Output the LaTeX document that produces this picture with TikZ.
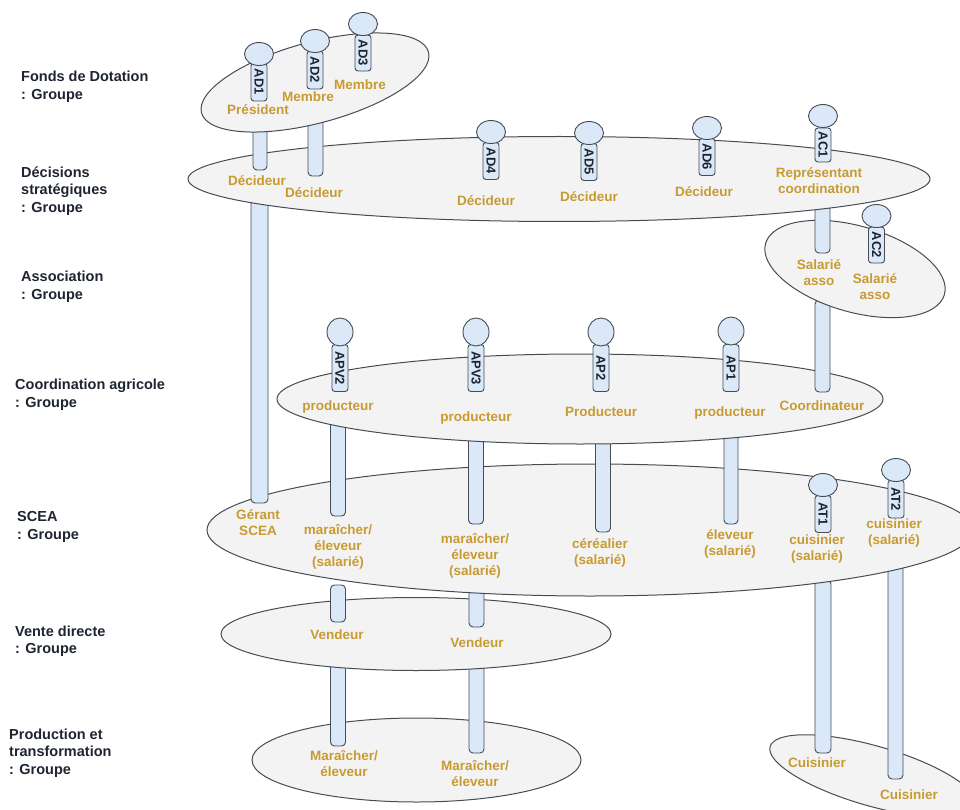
\documentclass[tikz,border=0pt]{standalone}
\usepackage{fontspec}
\setmainfont{Liberation Sans}
\usetikzlibrary{shapes.geometric}
\definecolor{groupfill}{RGB}{243,243,243}
\definecolor{lifefill}{RGB}{218,232,248}
\definecolor{rolegold}{RGB}{200,155,50}
\definecolor{edgegray}{RGB}{70,76,84}
\definecolor{titledark}{RGB}{30,36,48}
\newcommand{\lifebar}[4][7.5]{\draw[lifebar] (#2-#1,#3) rectangle (#2+#1,#4);}
\newcommand{\actor}[6][]{%
\node (tag#2) [tagbox, minimum width=#6pt] at (#3,#5) {#2};
\node (head#2) [headbox,#1] at (#3,#4) {};
}
\begin{document}
\begin{tikzpicture}[x=1pt,y=-1pt,
groupbox/.style={ellipse,draw=edgegray,fill=groupfill,line width=1pt,inner sep=0pt},
headbox/.style={ellipse,draw=edgegray,fill=lifefill,line width=0.9pt,minimum width=29pt,minimum height=23pt,inner sep=0pt},
roundhead/.style={minimum width=26pt,minimum height=28pt},
tagbox/.style={rectangle,rounded corners=3pt,draw=edgegray,fill=lifefill,line width=0.9pt,rotate=-90,minimum height=16pt,inner sep=0pt,font=\fontsize{13}{13}\selectfont\bfseries,text=titledark},
lifebar/.style={draw=edgegray,fill=lifefill,line width=0.9pt,rounded corners=4pt},
rolelabel/.style={align=center,text=rolegold,font=\fontsize{13.5}{16}\selectfont\bfseries,inner sep=0pt},
titlelabel/.style={align=left,anchor=west,text=titledark,font=\fontsize{14.5}{17.5}\selectfont\bfseries,inner sep=0pt}]
\useasboundingbox (0,0) rectangle (960,810);

% production
\node (prod) [groupbox,minimum width=329pt,minimum height=84pt] at (416.5,760) {};
\node (cook) [groupbox,minimum width=214pt,minimum height=60pt,rotate=-16] at (873,776) {};
\lifebar{338}{660}{746}
\lifebar{476.5}{660}{753}
\lifebar[8]{823}{580}{753}
\lifebar{895.5}{565}{779}

% vente
\node (vente) [groupbox,minimum width=390pt,minimum height=73pt] at (416,634) {};
\lifebar{338}{585}{622}
\lifebar{476.5}{585}{627}

% scea
\node (scea) [groupbox,minimum width=766pt,minimum height=132pt] at (590,530) {};
\lifebar[8.5]{259.5}{200}{503}
\lifebar{338}{420}{516}
\lifebar{476}{430}{524}
\lifebar{603}{430}{532}
\lifebar[7]{731}{430}{524}
\actor{AT1}{823}{485}{514}{37}
\actor{AT2}{896}{470}{499}{38}

% coordination
\node (coord) [groupbox,minimum width=606pt,minimum height=90pt] at (580,399) {};
\lifebar{822.5}{300}{392}
\actor[roundhead]{APV2}{340}{332}{368}{47}
\actor[roundhead]{APV3}{476}{332}{368}{47}
\actor[roundhead]{AP2}{601}{332}{368}{47}
\actor[roundhead]{AP1}{731}{331}{368}{47}

% association
\node (asso) [groupbox,minimum width=186pt,minimum height=86pt,rotate=-16] at (855,269) {};
\lifebar{822.5}{205}{253}
\actor{AC2}{876.5}{216}{245}{36}

% decisions
\node (strat) [groupbox,minimum width=742pt,minimum height=85pt] at (559,179) {};
\lifebar[7]{260}{110}{170}
\lifebar{315.5}{110}{176}
\actor{AD4}{491}{132}{161}{37}
\actor{AD5}{589}{133}{162}{37}
\actor{AD6}{707}{128}{157}{37}
\actor{AC1}{823}{116}{145}{34}

% fonds
\node (fonds) [groupbox,minimum width=235pt,minimum height=81pt,rotate=15] at (315,82.5) {};
\actor{AD1}{259}{54}{82}{38}
\actor{AD2}{315}{41}{70}{38}
\actor{AD3}{363}{24}{53}{36}

% roles
\node (r1) [rolelabel] at (258,110) {Président};
\node (r2) [rolelabel] at (308,97) {Membre};
\node (r3) [rolelabel] at (360,85) {Membre};
\node (r4) [rolelabel] at (257,181) {Décideur};
\node (r5) [rolelabel] at (314,193) {Décideur};
\node (r6) [rolelabel] at (486,201) {Décideur};
\node (r7) [rolelabel] at (589,197) {Décideur};
\node (r8) [rolelabel] at (704,192) {Décideur};
\node (r9) [rolelabel] at (819,180.5) {Représentant\\coordination};
\node (r10) [rolelabel] at (819,273) {Salarié\\asso};
\node (r11) [rolelabel] at (875,287) {Salarié\\asso};
\node (r12) [rolelabel] at (338,407) {producteur};
\node (r13) [rolelabel] at (476,418) {producteur};
\node (r14) [rolelabel] at (601,412) {Producteur};
\node (r15) [rolelabel] at (730,413) {producteur};
\node (r16) [rolelabel] at (822,406) {Coordinateur};
\node (r17) [rolelabel] at (258,523) {Gérant\\SCEA};
\node (r18) [rolelabel] at (338,547) {maraîcher/\\éleveur\\(salarié)};
\node (r19) [rolelabel] at (475,556) {maraîcher/\\éleveur\\(salarié)};
\node (r20) [rolelabel] at (600,553) {céréalier\\(salarié)};
\node (r21) [rolelabel] at (730,544) {éleveur\\(salarié)};
\node (r22) [rolelabel] at (817,549) {cuisinier\\(salarié)};
\node (r23) [rolelabel] at (894,533.5) {cuisinier\\(salarié)};
\node (r24) [rolelabel] at (337,635) {Vendeur};
\node (r25) [rolelabel] at (477,643) {Vendeur};
\node (r26) [rolelabel] at (344,764) {Maraîcher/\\éleveur};
\node (r27) [rolelabel] at (475,774) {Maraîcher/\\éleveur};
\node (r28) [rolelabel] at (817,763) {Cuisinier};
\node (r29) [rolelabel] at (909,795) {Cuisinier};

% titles
\node (t1) [titlelabel] at (21,87) {Fonds de Dotation\\: Groupe};
\node (t2) [titlelabel] at (21,191) {Décisions\\stratégiques\\: Groupe};
\node (t3) [titlelabel] at (21,287) {Association\\: Groupe};
\node (t4) [titlelabel] at (15,394.5) {Coordination agricole\\: Groupe};
\node (t5) [titlelabel] at (17,527) {SCEA\\: Groupe};
\node (t6) [titlelabel] at (15,641) {Vente directe\\: Groupe};
\node (t7) [titlelabel] at (9,753) {Production et\\transformation\\: Groupe};
\end{tikzpicture}
\end{document}
